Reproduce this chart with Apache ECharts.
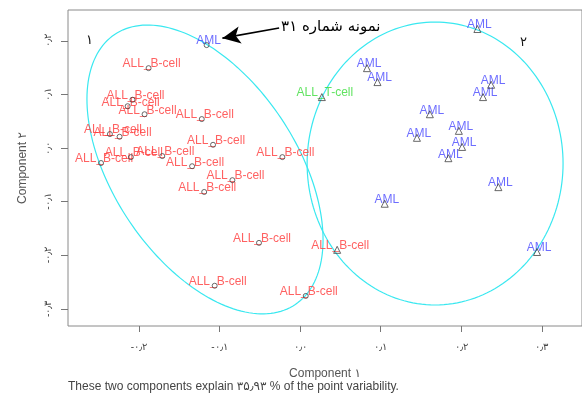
<!DOCTYPE html>
<html><head><meta charset="utf-8">
<script src="https://cdn.jsdelivr.net/npm/echarts@6/dist/echarts.min.js"></script>
<style>html,body{margin:0;padding:0;background:#fff}#c{width:582px;height:396px}</style>
</head><body><div id="c"></div>
<script>
// ---- data ----
const sampleClass = [
  'ALL_B-cell','ALL_B-cell','ALL_B-cell','ALL_B-cell','ALL_B-cell','ALL_B-cell','ALL_B-cell',
  'ALL_B-cell','ALL_B-cell','ALL_B-cell','ALL_B-cell','ALL_B-cell','ALL_B-cell','ALL_B-cell',
  'ALL_B-cell','ALL_B-cell','ALL_B-cell','ALL_B-cell','ALL_B-cell',
  'AML','AML','AML','AML','AML','AML','AML','AML','AML','AML','AML','AML','AML','AML',
  'ALL_T-cell'
];
const pc1 = [
  -0.188,-0.208,-0.214,-0.193,-0.122,-0.236,-0.224,-0.108,-0.247,-0.210,-0.171,-0.134,-0.022,-0.084,
  -0.119,-0.051,-0.106,0.046,0.007,
  -0.116,0.220,0.083,0.096,0.237,0.227,0.161,0.197,0.145,0.201,0.184,0.246,0.105,0.294,
  0.027
];
const pc2 = [
  0.149,0.090,0.078,0.063,0.054,0.026,0.021,0.006,-0.028,-0.017,-0.015,-0.034,-0.017,-0.060,
  -0.082,-0.177,-0.257,-0.190,-0.276,
  0.192,0.222,0.149,0.123,0.118,0.095,0.063,0.032,0.019,0.002,-0.019,-0.073,-0.104,-0.194,
  0.095
];
const cluster = [
  1,1,1,1,1,1,1,1,1,1,1,1,1,1,1,1,1,2,1,
  1,2,2,2,2,2,2,2,2,2,2,2,2,2,
  2
];
const classNames = ['ALL_B-cell','AML','ALL_T-cell'];
const xTicks = [-0.2,-0.1,0,0.1,0.2,0.3];
const xTickLabels = ['-۰٫۲','-۰٫۱','۰٫۰','۰٫۱','۰٫۲','۰٫۳'];
const yTicks = [-0.3,-0.2,-0.1,0,0.1,0.2];
const yTickLabels = ['-۰٫۳','-۰٫۲','-۰٫۱','۰٫۰','۰٫۱','۰٫۲'];
// cluster spanning ellipses: centre and two conjugate semi-axis vectors (data units)
const ellipseCenters = [[-0.118,-0.040],[0.1675,-0.0289]];
const ellipseU = [[0.1121,-0.2519],[0.1588,0]];
const ellipseV = [[-0.0943,-0.0957],[0,0.264]];
// annotation arrow (data units): tail, tip
const arrowTail = [-0.026,0.224];
const arrowTip = [-0.0964,0.205];

// ---- styling ----
const classColor = {'ALL_B-cell':'#ff3a3a','AML':'#4848ff','ALL_T-cell':'#38dc38'};
const classOffset = {'ALL_B-cell':[3,-4],'AML':[2,-4],'ALL_T-cell':[3,-4]};
const clusterSymbol = {1:'circle',2:'triangle'};
const clusterSize = {1:5,2:7};
const font = 'Liberation Sans, Arial, DejaVu Sans, sans-serif';

function lookup(ticks, labels, v){
  for (let i=0;i<ticks.length;i++) if (Math.abs(ticks[i]-v)<1e-6) return labels[i];
  return '';
}

const series = [];
// ellipses
series.push({
  type:'custom', silent:true, animation:false, z:1,
  data: ellipseCenters.map((c,i)=>[c[0],c[1],i]),
  renderItem(params, api){
    const i = params.dataIndex;
    const c = ellipseCenters[i], u = ellipseU[i], v = ellipseV[i];
    const pts = [];
    for (let k=0;k<=180;k++){
      const t = k/180*2*Math.PI;
      pts.push(api.coord([c[0]+u[0]*Math.cos(t)+v[0]*Math.sin(t), c[1]+u[1]*Math.cos(t)+v[1]*Math.sin(t)]));
    }
    return {type:'polyline', shape:{points:pts}, style:{stroke:'#3ae8f0', fill:null, lineWidth:1.2}};
  }
});
// labels by class
classNames.forEach((cn)=>{
  const d = [];
  sampleClass.forEach((s,i)=>{ if (s===cn) d.push([pc1[i],pc2[i]]); });
  const s = {
    type:'scatter', name:cn, data:d, symbolSize:0, silent:true, animation:false, z:3,
    label:{show:true, position:'inside', offset:classOffset[cn], formatter:cn, color:classColor[cn],
      fontFamily:font, fontSize:12}
  };
  if (cn==='AML') {
    s.markLine = {
      silent:true, animation:false, symbol:['none','arrow'], symbolSize:[13,18],
      lineStyle:{color:'#000', width:1.6, type:'solid'},
      label:{show:true, position:'start', formatter:'نمونه شماره ۳۱', color:'#000', fontSize:15,
        fontFamily:'DejaVu Sans, sans-serif', distance:2},
      data:[[{coord:arrowTail},{coord:arrowTip}]]
    };
  }
  series.push(s);
});
// markers by cluster
[1,2].forEach(k=>{
  const d = [];
  cluster.forEach((c,i)=>{ if (c===k) d.push([pc1[i],pc2[i]]); });
  series.push({
    type:'scatter', data:d, symbol:clusterSymbol[k], symbolSize:clusterSize[k], silent:true,
    animation:false, z:4,
    itemStyle:{color:'rgba(255,255,255,0)', borderColor:'#444', borderWidth:1}
  });
});

const chart = echarts.init(document.getElementById('c'), null, {renderer:'canvas'});
chart.setOption({
  animation:false,
  backgroundColor:'#fff',
  grid:{left:68, top:10, right:-2, bottom:70, show:true, borderColor:'#8a8a8a', borderWidth:1},
  xAxis:{
    type:'value', min:-0.288, max:0.3498,
    name:'Component ۱', nameLocation:'middle', nameGap:42,
    nameTextStyle:{color:'#555', fontSize:12, fontFamily:font},
    axisLine:{show:false, onZero:false}, splitLine:{show:false},
    axisTick:{show:true, length:6, customValues:xTicks, lineStyle:{color:'#777'}},
    axisLabel:{customValues:xTicks, margin:16, color:'#444', fontSize:10,
      formatter:v=>lookup(xTicks,xTickLabels,v)}
  },
  yAxis:{
    type:'value', min:-0.3321, max:0.2575,
    name:'Component ۲', nameLocation:'middle', nameGap:39,
    nameTextStyle:{color:'#555', fontSize:12, fontFamily:font},
    axisLine:{show:false, onZero:false}, splitLine:{show:false},
    axisTick:{show:true, length:7, customValues:yTicks, lineStyle:{color:'#777'}},
    axisLabel:{customValues:yTicks, margin:15, rotate:90, color:'#444', fontSize:10,
      formatter:v=>lookup(yTicks,yTickLabels,v)}
  },
  graphic:[
    {type:'text', left:68, top:381, style:{text:'These two components explain ۳۵٫۹۳ % of the point variability.',
      fill:'#444', fontSize:12, fontFamily:font}},
    {type:'text', left:86, top:34, style:{text:'۱', fill:'#111', fontSize:13, fontFamily:'DejaVu Sans'}},
    {type:'text', left:520, top:36, style:{text:'۲', fill:'#111', fontSize:13, fontFamily:'DejaVu Sans'}}
  ],
  series:series
});
</script>
</body></html>
